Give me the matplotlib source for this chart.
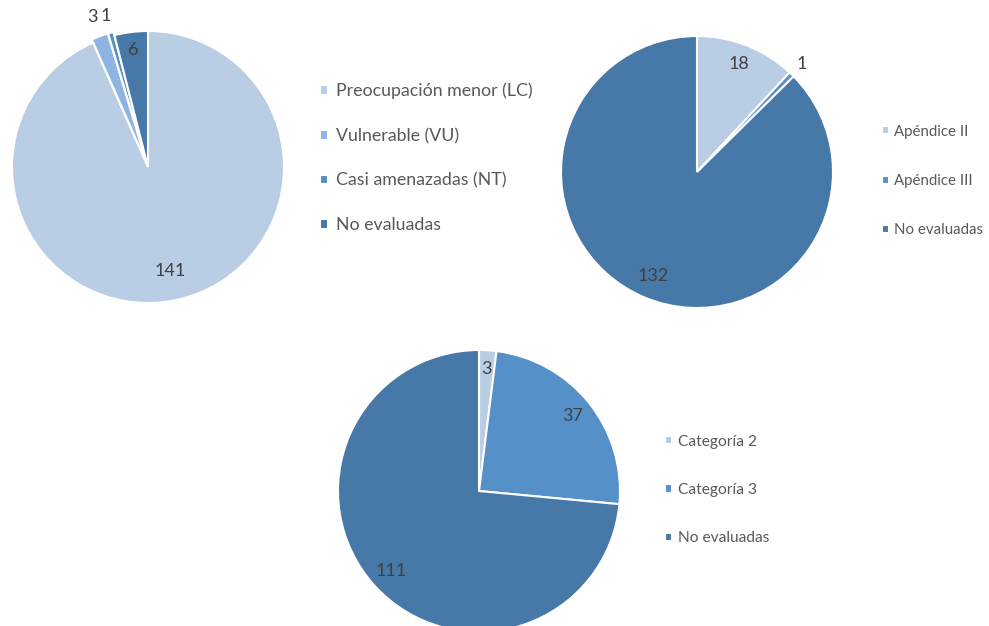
import numpy as np
import matplotlib
matplotlib.use("Agg")
import matplotlib.pyplot as plt

plt.rcParams['font.family'] = ['Lato', 'DejaVu Sans']

W, H = 989, 626

# ---- data ----
iucn_labels = ["Preocupación menor (LC)", "Vulnerable (VU)", "Casi amenazadas (NT)", "No evaluadas"]
iucn_values = [141, 3, 1, 6]

cites_labels = ["Apéndice II", "Apéndice III", "No evaluadas"]
cites_values = [18, 1, 132]

cat_labels = ["Categoría 2", "Categoría 3", "No evaluadas"]
cat_values = [3, 37, 111]

# ---- styles ----
c_light = "#B9CDE5"
c_mid1 = "#8DB4E2"
c_mid = "#5590C8"
c_dark = "#4678A8"
iucn_colors = [c_light, c_mid1, c_mid, c_dark]
cites_colors = [c_light, c_mid, c_dark]
cat_colors = [c_light, c_mid, c_dark]

label_color = "#404040"
legend_color = "#595959"

fig = plt.figure(figsize=(W / 100, H / 100), dpi=100)


def make_pie(cx, cy, R, values, colors, label_dists, explode=None, label_fs=13):
    ax = fig.add_axes([(cx - R) / W, (H - cy - R) / H, 2 * R / W, 2 * R / H])
    wedges, _ = ax.pie(values, colors=colors, startangle=90, counterclock=False,
                       explode=explode, radius=1,
                       wedgeprops=dict(edgecolor="white", linewidth=1.5))
    for w, v, d in zip(wedges, values, label_dists):
        ang = np.deg2rad((w.theta1 + w.theta2) / 2)
        cxw, cyw = w.center
        ax.text(cxw + d * np.cos(ang), cyw + d * np.sin(ang), str(v),
                ha="center", va="center", fontsize=label_fs, color=label_color)
    ax.set_xlim(-1, 1)
    ax.set_ylim(-1, 1)
    ax.set_aspect("equal")
    ax.axis("off")
    for p in ax.patches:
        p.set_clip_on(False)
    return wedges


def make_legend(wedges, labels, x, y, fs, spacing, pad=0.45):
    leg = fig.legend(wedges, labels, loc="center left",
                     bbox_to_anchor=(x / W, 1 - y / H), frameon=False,
                     fontsize=fs, handlelength=0.45, handleheight=0.45,
                     handletextpad=pad, labelspacing=spacing,
                     borderpad=0, borderaxespad=0)
    for t in leg.get_texts():
        t.set_color(legend_color)
    return leg


w1 = make_pie(148, 167, 136, iucn_values, iucn_colors,
              [0.78, 1.15, 1.13, 0.87], explode=[0, 0.025, 0.025, 0])
make_legend(w1, iucn_labels, 320, 158, 12.8, 1.6)

w2 = make_pie(697, 172, 136, cites_values, cites_colors, [0.85, 1.11, 0.83])
make_legend(w2, cites_labels, 882, 181, 10.8, 2.35, pad=0.35)

w3 = make_pie(479, 491, 141, cat_values, cat_colors, [0.87, 0.85, 0.84])
make_legend(w3, cat_labels, 665, 490, 11.2, 2.2, pad=0.4)

fig.savefig("out.png", dpi=100, facecolor="white")
